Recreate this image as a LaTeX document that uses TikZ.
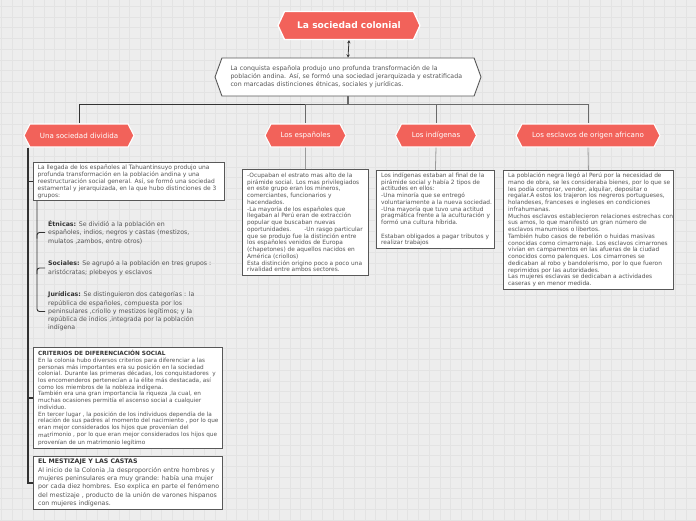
\documentclass[tikz,border=0pt]{standalone}
\usepackage{fontspec}
\setmainfont{DejaVu Sans}
\usetikzlibrary{shapes.symbols,arrows.meta}
\definecolor{coral}{HTML}{F2625A}
\definecolor{bg}{HTML}{EDEDED}
\definecolor{gridc}{HTML}{E3E3E3}
\definecolor{txt}{HTML}{555555}
\definecolor{head}{HTML}{333333}
\definecolor{bord}{HTML}{585858}
\definecolor{darkline}{HTML}{333333}
\definecolor{midline}{HTML}{6A6A6A}
\definecolor{lightline}{HTML}{9A9A9A}
\tikzset{
  hexa/.style={signal, signal to=west and east, inner sep=0pt},
  titlebox/.style={hexa, fill=coral, draw=white, line width=1.3pt, text=white,
    signal pointer angle=130, font=\bfseries\fontsize{9.1}{10}\selectfont},
  headbox/.style={hexa, fill=coral, draw=white, line width=1.1pt, text=white,
    minimum height=23pt, signal pointer angle=125, font=\fontsize{7.1}{8}\selectfont},
  introbox/.style={hexa, fill=white, draw=bord, line width=0.9pt, text=txt,
    signal pointer angle=140, align=left, font=\fontsize{6.25}{8}\selectfont},
  panel/.style={draw=bord, fill=white, line width=0.85pt, anchor=north west, inner sep=0pt},
  ptext/.style={anchor=west, inner sep=0pt, align=left, text=txt},
  fsmall/.style={font=\fontsize{5.85}{6.75}\selectfont},
  fmid/.style={font=\fontsize{6.25}{8.3}\selectfont},
  spineline/.style={draw=darkline, line width=1.2pt},
  twig/.style={draw=darkline, line width=0.9pt, rounded corners=2.5pt},
}
\newcommand{\hd}[1]{\textcolor{head}{\bfseries #1}}
\begin{document}
\begin{tikzpicture}[x=1pt,y=-1pt]
\useasboundingbox (0,0) rectangle (696,520);
% background grid
\fill[bg] (0,0) rectangle (696,520);
\foreach \i in {0,...,65} \draw[gridc,line width=0.7pt] ({1.2+10.7*\i},0) -- ({1.2+10.7*\i},520);
\foreach \j in {0,...,48} \draw[gridc,line width=0.7pt] (0,{6.4+10.7*\j}) -- (696,{6.4+10.7*\j});

% title and intro
\node[titlebox, minimum width=142pt, minimum height=28pt] (title) at (349,25.5) {La sociedad colonial};
\node[introbox, minimum width=266pt, minimum height=38pt, text width=235pt] (intro) at (348,77)
 {La conquista española produjo uno profunda transformación de la\\
  población andina. Así, se formó una sociedad jerarquizada y estratificada\\
  con marcadas distinciones étnicas, sociales y jurídicas.};
\draw[{Stealth[length=3.2pt,width=3.4pt]}-{Stealth[length=3.2pt,width=3.4pt]}, draw=darkline, line width=0.8pt] (title.south) -- (intro.north);

% headers
\node[headbox, minimum width=110pt] (div) at (79,135.5) {Una sociedad dividida};
\node[headbox, minimum width=81pt] (esp) at (305.5,135.5) {Los españoles};
\node[headbox, minimum width=81pt] (ind) at (436,135.5) {Los indígenas};
\node[headbox, minimum width=144pt] (esc) at (588,135.5) {Los esclavos de origen africano};

\coordinate (jn) at (348,104.5);
\draw[draw=midline, line width=1.8pt] (intro.south) -- (jn);
\draw[draw=darkline, line width=1pt] (jn) -| (div.north);
\draw[draw=midline, line width=1pt] (jn) -| (esp.north);
\draw[draw=midline, line width=1pt] (jn) -| (ind.north);
\draw[draw=midline, line width=1pt] (jn) -| (esc.north);

% right-hand panels
\node[panel, minimum width=126pt, minimum height=106pt] (espbox) at (242,169) {};
\node[ptext, fsmall] (esptxt) at ([xshift=5pt]espbox.west)
 {-Ocupaban el estrato mas alto de la\\
  pirámide social. Los mas privilegiados\\
  en este grupo eran los mineros,\\
  comerciantes, funcionarios y\\
  hacendados.\\
  -La mayoría de los españoles que\\
  llegaban al Perú eran de extracción\\
  popular que buscaban nuevas\\
  oportunidades.\hspace{13pt}-Un rasgo particular\\
  que se produjo fue la distinción entre\\
  los españoles venidos de Europa\\
  (chapetones) de aquellos nacidos en\\
  América (criollos)\\
  Esta distinción origino poco a poco una\\
  rivalidad entre ambos sectores.};

\node[panel, minimum width=118pt, minimum height=78pt] (indbox) at (376,170) {};
\node[ptext, fsmall] (indtxt) at ([xshift=5pt]indbox.west)
 {Los indígenas estaban al final de la\\
  pirámide social y había 2 tipos de\\
  actitudes en ellos:\\
  -Una minoría que se entregó\\
  voluntariamente a la nueva sociedad.\\
  -Una mayoría que tuvo una actitud\\
  pragmática frente a la aculturación y\\
  formó una cultura híbrida.\\[6.75pt]
  Estaban obligados a pagar tributos y\\
  realizar trabajos};

\node[panel, minimum width=170pt, minimum height=119pt] (escbox) at (503,170) {};
\node[ptext, fsmall] (esctxt) at ([xshift=5pt]escbox.west)
 {La población negra llegó al Perú por la necesidad de\\
  mano de obra, se les consideraba bienes, por lo que se\\
  les podía comprar, vender, alquilar, depositar o\\
  regalar.A estos los trajeron los negreros portugueses,\\
  holandeses, franceses e ingleses en condiciones\\
  infrahumanas.\\
  Muchos esclavos establecieron relaciones estrechas con\\
  sus amos, lo que manifestó un gran número de\\
  esclavos manumisos o libertos.\\
  También hubo casos de rebelión o huidas masivas\\
  conocidas como cimarronaje. Los esclavos cimarrones\\
  vivían en campamentos en las afueras de la ciudad\\
  conocidos como palenques. Los cimarrones se\\
  dedicaban al robo y bandolerismo, por lo que fueron\\
  reprimidos por las autoridades.\\
  Las mujeres esclavas se dedicaban a actividades\\
  caseras y en menor medida.};

\draw[draw=lightline, line width=0.8pt] (esp.south) -- (espbox.north);
\draw[draw=lightline, line width=0.8pt] (ind.south) -- (indbox.north);
\draw[draw=lightline, line width=0.8pt] (esc.south) -- (escbox.north);

% left column
\node[panel, minimum width=191pt, minimum height=38pt] (topbox) at (33,162) {};
\node[ptext, font=\fontsize{5.95}{7}\selectfont] (toptxt) at ([xshift=4.5pt]topbox.west)
 {La llegada de los españoles al Tahuantinsuyo produjo una\\
  profunda transformación en la población andina y una\\
  reestructuración social general. Así, se formó una sociedad\\
  estamental y jerarquizada, en la que hubo distinciones de 3\\
  grupos:};

\node[ptext, fmid] (etn) at (48,232.5)
 {\hd{Étnicas:} Se dividió a la población en\\
  españoles, indios, negros y castas (mestizos,\\
  mulatos ,zambos, entre otros)};
\node[ptext, fmid] (soc) at (48,268)
 {\hd{Sociales:} Se agrupó a la población en tres grupos :\\
  aristócratas; plebeyos y esclavos};
\node[ptext, fmid] (jur) at (48,311.5)
 {\hd{Jurídicas:} Se distinguieron dos categorías : la\\
  república de españoles, compuesta por los\\
  peninsulares ,criollo y mestizos legítimos; y la\\
  república de indios ,integrada por la población\\
  indígena};

\node[panel, minimum width=189pt, minimum height=101pt] (crit) at (33,347) {};
\node[ptext, font=\fontsize{5.75}{6.7}\selectfont] (crittxt) at ([xshift=5pt]crit.west)
 {\hd{CRITERIOS DE DIFERENCIACIÓN SOCIAL}\\
  En la colonia hubo diversos criterios para diferenciar a las\\
  personas más importantes era su posición en la sociedad\\
  colonial. Durante las primeras décadas, los conquistadores \ y\\
  los encomenderos pertenecían a la élite más destacada, así\\
  como los miembros de la nobleza indígena.\\
  También era una gran importancia la riqueza ,la cual, en\\
  muchas ocasiones permitía el ascenso social a cualquier\\
  individuo.\\
  En tercer lugar , la posición de los individuos dependía de la\\
  relación de sus padres al momento del nacimiento , por lo que\\
  eran mejor considerados los hijos que provenían del\\
  mat\raisebox{1.5pt}{rimonio , por lo que eran mejor considerados los hijos que}\\
  provenían de un matrimonio legítimo};

\node[panel, minimum width=189pt, minimum height=53pt] (mest) at (33,456) {};
\node[ptext, fmid] (mesttxt) at ([xshift=5pt]mest.west)
 {\hd{EL MESTIZAJE Y LAS CASTAS}\\
  Al inicio de la Colonia ,la desproporción entre hombres y\\
  mujeres peninsulares era muy grande: había una mujer\\
  por cada diez hombres. Eso explica en parte el fenómeno\\
  del mestizaje , producto de la unión de varones hispanos\\
  con mujeres indígenas.};

% left spine
\coordinate (spine) at (28,0);
\draw[spineline] (div.south -| spine) -- (mest.west -| spine) -- (mest.west);
\draw[spineline] (topbox.west -| spine) -- (topbox.west);
\draw[spineline] (crit.west -| spine) -- (crit.west);

% second-level spine
\coordinate (spine2) at (37,0);
\draw[twig] (topbox.south -| spine2) -- (spine2 |- jur.west) -- ([xshift=-3pt]jur.west);
\draw[twig] ([yshift=-6pt]spine2 |- etn.west) -- (spine2 |- etn.west) -- ([xshift=-3pt]etn.west);
\draw[twig] ([yshift=-6pt]spine2 |- soc.west) -- (spine2 |- soc.west) -- ([xshift=-3pt]soc.west);
\end{tikzpicture}
\end{document}
